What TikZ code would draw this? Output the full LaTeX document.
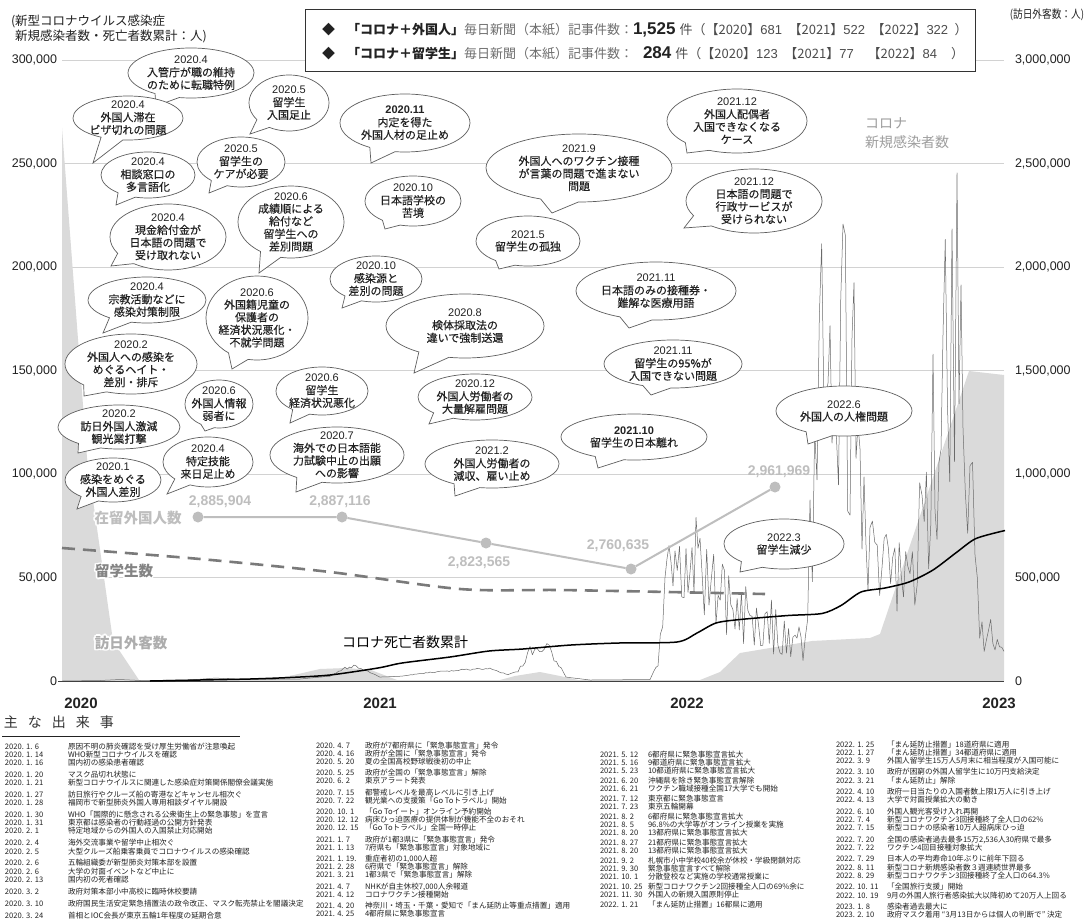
\documentclass[tikz,border=0pt]{standalone}
\usepackage{graphicx}
\usepackage{fontspec}
\setmainfont{Liberation Sans}
\newfontfamily\jp{Noto Sans CJK JP}
\newfontfamily\jpm{Noto Sans CJK JP}[FakeBold=0.35]
\usetikzlibrary{shapes.callouts}
\definecolor{ink}{HTML}{222222}
\definecolor{gridc}{HTML}{D2D2D2}
\definecolor{visit}{HTML}{DADADA}
\definecolor{resc}{HTML}{BEBEBE}
\definecolor{stuc}{HTML}{7A7A7A}
\definecolor{casec}{HTML}{6A6A6A}
\definecolor{bubline}{HTML}{5E5E5E}
\definecolor{midg}{HTML}{6E6E6E}
\newcommand\dt[1]{{\rmfamily #1}}
\newcommand\nm[1]{{\rmfamily #1}}
% one line of the event list: date, description (fixed line height)
\newcommand\evw{63pt}
\newcommand\ev[2]{\makebox[\evw][l]{\smash{#1}}\smash{#2}\rule[-2.3pt]{0pt}{7.8pt}}
% white-outlined label: name, position, style, text
\newcommand\halolabel[4]{%
  \foreach \a in {0,30,...,330}{\node[#3,text=white,shift={(\a:1.5)}] at #2 {#4};}
  \node[#3] (#1) at #2 {#4};}
\begin{document}
\begin{tikzpicture}[x=1pt,y=-1pt,
  every node/.style={inner sep=0pt,outer sep=0pt},
  bubble/.style={ellipse callout,draw=bubline,line width=0.7pt,fill=white,
    inner sep=-15pt,callout pointer arc=24,align=center,
    font=\jpm\fontsize{11}{12.6}\selectfont,text=ink},
  bsize/.style 2 args={minimum width=#1pt,minimum height=#2pt},
  gridline/.style={gridc,line width=0.8pt},
  ylab/.style={font=\fontsize{12.5}{12.5}\selectfont,text=ink},
  yearlab/.style={font=\bfseries\fontsize{15}{15}\selectfont,text=ink},
  numlab/.style={font=\bfseries\fontsize{14}{14}\selectfont,text=resc},
  resdot/.style={circle,fill=resc,minimum size=11pt},
  serieslab/.style={font=\jp\bfseries\fontsize{14.5}{14.5}\selectfont},
  events/.style={anchor=north west,align=left,text=ink,font=\jp\fontsize{7.6}{8.2}\selectfont},
  eventsb/.style={events,font=\jp\fontsize{7.6}{8.0}\selectfont},
  caseline/.style={casec,line width=0.5pt,line join=round}
]
\useasboundingbox (0,0) rectangle (1086,923);
\fill[white] (0,0) rectangle (1086,923);

% ---------- grid ----------
\foreach \yy in {60,163.5,267,370.5,474,577.5}
  \draw[gridline] (62,\yy) -- (1004,\yy);

% ---------- monthly foreign visitors (right axis) ----------
\fill[visit] (62,681) -- (62,128) -- (87,458) -- (113,641) -- (139,680) -- (268,680)
  -- (294,675) -- (320,669) -- (346,668) -- (371,670) -- (397,680) -- (500,680)
  -- (515,676) -- (540,672) -- (560,676) -- (578,680) -- (700,680) -- (720,672)
  -- (740,653) -- (764,649) -- (812,641) -- (870,638) -- (880,634) -- (969,371)
  -- (1004,375) -- (1004,681) -- cycle;

% ---------- daily new cases (left axis) ----------
\pgfmathsetseed{20230210}
\gdef\casepath{(62,681)}
\foreach \x/\e [remember=\x as \lastx (initially 62), remember=\e as \laste (initially 0)] in
 {62/0,100/0.5,120/1.5,140/0.5,190/1,215/3,245/1.5,300/2,330/5,345/14,356/17,368/10,
  380/4,400/5,430/9,460/12,490/13,508/7,518/10,530/35,542/52,554/30,566/4,590/1,
  650/1.5,658/20,665/150,675/210,684/216,694/175,702/160,716/125,735/115,750/100,
  765/90,780/70,795/50,803/60,810/200,817/350,824/515,834/520,843/540,850/480,856/400,
  862/250,870/180,882/160,897/140,910/150,922/230,933/330,943/440,952/470,957/510,
  963/440,970/280,975/170,982/90,995/60,1004/30}
{
  \pgfmathtruncatemacro\nn{max(1,round((\x-\lastx)/2.2))}
  \foreach \i in {1,...,\nn}{
    \pgfmathsetmacro\px{\lastx+(\x-\lastx)*\i/\nn}
    \pgfmathsetmacro\ee{\laste+(\e-\laste)*\i/\nn}
    \pgfmathsetmacro\py{681-\ee*(1-0.66*rnd*min(1,\ee/50))}
    \xdef\casepath{\casepath -- (\px,\py)}
  }
}
\draw[caseline] \casepath;

% ---------- baseline ----------
\draw[black!75,line width=0.8pt] (58,681) -- (1004,681);

% ---------- cumulative deaths ----------
\draw[black,line width=1.5pt] plot[smooth,tension=0.45] coordinates {
  (150,681) (200,680) (250,679) (290,677.5) (330,675) (378,668) (402,663) (450,657)
  (489,651) (523,649) (571,645) (619,643) (677,642) (697,633) (716,623) (740,619.5)
  (788,615.5) (822,613.5) (841,605.5) (861,592) (885,588) (909,582) (933,570)
  (957,552) (976,538.5) (1005,530.5)};

% ---------- international students (dashed) ----------
\draw[stuc,line width=2.6pt,dash pattern=on 13pt off 8pt] plot[smooth] coordinates {
  (62,548) (200,559) (330,572) (460,589) (560,590) (668,592) (765,594)};

% ---------- resident foreigners ----------
\node[resdot] (r1) at (198,517) {};
\node[resdot] (r2) at (342,517) {};
\node[resdot] (r3) at (486,543) {};
\node[resdot] (r4) at (631,569) {};
\node[resdot] (r5) at (775,487) {};
\draw[resc,line width=2pt] (r1) -- (r2) -- (r3) -- (r4) -- (r5);
\node[numlab] (n1) at (220,502) {2,885,904};
\node[numlab] (n2) at (340,502) {2,887,116};
\node[numlab] (n3) at (479,563) {2,823,565};
\node[numlab] (n4) at (618,546) {2,760,635};
\node[numlab] (n5) at (779,472) {2,961,969};

% ---------- series labels ----------
\halolabel{lres}{(138,518)}{serieslab,text=resc}{在留外国人数}
\halolabel{lstu}{(124,571)}{serieslab,text=midg!85}{留学生数}
\halolabel{lvis}{(131,643)}{serieslab,text=black!32}{訪日外客数}
\node[font=\jp\fontsize{14}{14}\selectfont,text=black] (ldeath) at (405,642) {コロナ死亡者数累計};
\node[font=\jp\fontsize{14}{14}\selectfont,text=black!38,anchor=west] (lcase1) at (865,123) {コロナ};
\node[font=\jp\fontsize{14}{14}\selectfont,text=black!38,anchor=west] (lcase2) at (865,142) {新規感染者数};

% ---------- axes labels ----------
\node[ylab,anchor=east] (yl6) at (57,60) {300,000};
\node[ylab,anchor=east] (yl5) at (57,163.5) {250,000};
\node[ylab,anchor=east] (yl4) at (57,267) {200,000};
\node[ylab,anchor=east] (yl3) at (57,370.5) {150,000};
\node[ylab,anchor=east] (yl2) at (57,474) {100,000};
\node[ylab,anchor=east] (yl1) at (57,577.5) {50,000};
\node[ylab,anchor=east] (yl0) at (57,681) {0};
\node[ylab,anchor=west] (yr6) at (1015,60) {3,000,000};
\node[ylab,anchor=west] (yr5) at (1015,163.5) {2,500,000};
\node[ylab,anchor=west] (yr4) at (1015,267) {2,000,000};
\node[ylab,anchor=west] (yr3) at (1015,370.5) {1,500,000};
\node[ylab,anchor=west] (yr2) at (1015,474) {1,000,000};
\node[ylab,anchor=west] (yr1) at (1015,577.5) {500,000};
\node[ylab,anchor=west] (yr0) at (1015,681) {0};
\node[yearlab] (y2020) at (81,703) {2020};
\node[yearlab] (y2021) at (380,703) {2021};
\node[yearlab] (y2022) at (687,703) {2022};
\node[yearlab] (y2023) at (999,703) {2023};

\node[anchor=west,align=left,font=\jp\fontsize{12.5}{15}\selectfont,text=ink] (unitl) at (11,28.5)
  {(新型コロナウイルス感染症\\\hspace{4pt}新規感染者数・死亡者数累計：人)};
\node[anchor=east,font=\jp\fontsize{11.5}{12}\selectfont,text=ink] (unitr) at (1084,15)
  {\scalebox{0.84}[1]{(訪日外客数：人)}};

% ---------- legend ----------
\node[draw=black!80,line width=1pt,fill=white,minimum width=670pt,minimum height=62pt] (legend) at (640,41) {};
\node[anchor=west,font=\jp\fontsize{13}{13}\selectfont,text=ink] (leg1) at (322,30)
  {◆\hspace{12pt}\textbf{「コロナ＋外国人」}\textcolor{midg}{毎日新聞（本紙）記事件数：}{\rmfamily\bfseries\fontsize{17}{17}\selectfont 1,525}\hspace{4pt}\textcolor{black!70}{件（【2020】\nm{681}\enspace【2021】\nm{522}\enspace【2022】\nm{322}\enspace）}};
\node[anchor=west,font=\jp\fontsize{13}{13}\selectfont,text=ink] (leg2) at (322,53)
  {◆\hspace{12pt}\textbf{「コロナ＋留学生」}\textcolor{midg}{毎日新聞（本紙）記事件数：}\hspace{10pt}{\rmfamily\bfseries\fontsize{17}{17}\selectfont 284}\hspace{4pt}\textcolor{black!70}{件（【2020】\nm{123}\enspace【2021】\nm{77}\hspace{14pt}【2022】\nm{84}\hspace{14pt}）}};

% ---------- event bubbles ----------
\node[bubble,bsize={126}{50},callout absolute pointer={(156,106)}] (b1) at (191,73) {\dt{2020.4}\\入管庁が職の維持\\のために転職特例};
\node[bubble,bsize={110}{44},callout absolute pointer={(93,163)}] (b2) at (128,118) {\dt{2020.4}\\外国人滞在\\ビザ切れの問題};
\node[bubble,bsize={80}{56},callout absolute pointer={(250,134)}] (b3) at (289,103) {\dt{2020.5}\\留学生\\入国足止};
\node[bubble,bsize={94}{46},callout absolute pointer={(116,205)}] (b4) at (148,175) {\dt{2020.4}\\相談窓口の\\多言語化};
\node[bubble,bsize={88}{50},callout absolute pointer={(209,193)}] (b5) at (241,162) {\dt{2020.5}\\留学生の\\ケアが必要};
\node[bubble,bsize={106}{72},callout absolute pointer={(259,273)}] (b6) at (291,222) {\dt{2020.6}\\成績順による\\給付など\\留学生への\\差別問題};
\node[bubble,bsize={116}{66},callout absolute pointer={(111,266)}] (b7) at (168,237) {\dt{2020.4}\\現金給付金が\\日本語の問題で\\受け取れない};
\node[bubble,bsize={118}{46},callout absolute pointer={(103,333)}] (b8) at (147,300) {\dt{2020.4}\\宗教活動などに\\感染対策制限};
\node[bubble,bsize={102}{84},callout absolute pointer={(232,369)}] (b9) at (257,318) {\dt{2020.6}\\外国籍児童の\\保護者の\\経済状況悪化・\\不就学問題};
\node[bubble,bsize={132}{60},callout absolute pointer={(84,396)}] (b10) at (131,364) {\dt{2020.2}\\外国人への感染を\\めぐるヘイト・\\差別・排斥};
\node[bubble,bsize={68}{48},callout absolute pointer={(205,431)}] (b11) at (219,404) {\dt{2020.6}\\外国人情報\\弱者に};
\node[bubble,bsize={122}{44},callout absolute pointer={(78,453)}] (b12) at (119,427) {\dt{2020.2}\\訪日外国人激減\\観光業打撃};
\node[bubble,bsize={96}{44},callout absolute pointer={(77,509)}] (b13) at (113,480) {\dt{2020.1}\\感染をめぐる\\外国人差別};
\node[bubble,bsize={90}{50},callout absolute pointer={(167,494)}] (b14) at (208,462) {\dt{2020.4}\\特定技能\\来日足止め};
\node[bubble,bsize={92}{48},callout absolute pointer={(290,423)}] (b15) at (322,391) {\dt{2020.6}\\留学生\\経済状況悪化};
\node[bubble,bsize={134}{56},callout absolute pointer={(296,492)}] (b16) at (337,455) {\dt{2020.7}\\海外での日本語能\\力試験中止の出願\\への影響};
\node[bubble,bsize={130}{58},callout absolute pointer={(371,163)}] (b17) at (405,123) {\dt{\bfseries 2020.11}\\内定を得た\\外国人材の足止め};
\node[bubble,bsize={96}{50},callout absolute pointer={(385,229)}] (b18) at (413,201) {\dt{2020.10}\\日本語学校の\\苦境};
\node[bubble,bsize={186}{68},callout absolute pointer={(552,213)}] (b19) at (579,168) {\dt{2021.9}\\外国人へのワクチン接種\\が言葉の問題で進まない\\問題};
\node[bubble,bsize={104}{50},callout absolute pointer={(499,269)}] (b20) at (528,241) {\dt{2021.5}\\留学生の孤独};
\node[bubble,bsize={92}{46},callout absolute pointer={(342,308)}] (b21) at (376,279) {\dt{2020.10}\\感染源と\\差別の問題};
\node[bubble,bsize={158}{64},callout absolute pointer={(414,373)}] (b22) at (465,326) {\dt{2020.8}\\検体採取法の\\違いで強制送還};
\node[bubble,bsize={114}{46},callout absolute pointer={(429,424)}] (b23) at (475,397) {\dt{2020.12}\\外国人労働者の\\大量解雇問題};
\node[bubble,bsize={134}{48},callout absolute pointer={(455,496)}] (b24) at (492,464) {\dt{2021.2}\\外国人労働者の\\減収、雇い止め};
\node[bubble,bsize={140}{64},callout absolute pointer={(687,153)}] (b25) at (737,121) {\dt{2021.12}\\外国人配偶者\\入国できなくなる\\ケース};
\node[bubble,bsize={136}{64},callout absolute pointer={(684,228)}] (b26) at (754,201) {\dt{2021.12}\\日本語の問題で\\行政サービスが\\受けられない};
\node[bubble,bsize={160}{58},callout absolute pointer={(629,328)}] (b27) at (656,291) {\dt{2021.11}\\日本語のみの接種券・\\難解な医療用語};
\node[bubble,bsize={138}{48},callout absolute pointer={(651,395)}] (b28) at (673,364) {\dt{2021.11}\\留学生の95\%が\\入国できない問題};
\node[bubble,bsize={146}{46},callout absolute pointer={(598,468)}] (b29) at (634,437) {\dt{\bfseries 2021.10}\\留学生の日本離れ};
\node[bubble,bsize={136}{50},callout absolute pointer={(808,444)}] (b30) at (844,411) {\dt{2022.6}\\外国人の人権問題};
\node[bubble,bsize={120}{50},callout absolute pointer={(740,572)}] (b31) at (784,544) {\dt{2022.3}\\留学生減少};

% ---------- main events ----------
\node[anchor=west,font=\jp\fontsize{14}{14}\selectfont,text=black!80] (evtitle) at (4,722)
  {主\hspace{10pt}な\hspace{10pt}出\hspace{10pt}来\hspace{10pt}事};
\draw[ink,line width=0.8pt] (2,736) -- (240,736);

\renewcommand\evw{63pt}
\node[events] (ev1) at (5,743.5) {%
\ev{2020. 1. 6}{原因不明の肺炎確認を受け厚生労働省が注意喚起}\\
\ev{2020. 1. 14}{WHO新型コロナウイルスを確認}\\
\ev{2020. 1. 16}{国内初の感染患者確認}\\[3.7pt]
\ev{2020. 1. 20}{マスク品切れ状態に}\\
\ev{2020. 1. 21}{新型コロナウイルスに関連した感染症対策関係閣僚会議実施}\\[3.7pt]
\ev{2020. 1. 27}{訪日旅行やクルーズ船の寄港などキャンセル相次ぐ}\\
\ev{2020. 1. 28}{福岡市で新型肺炎外国人専用相談ダイヤル開設}\\[3.7pt]
\ev{2020. 1. 30}{WHO「国際的に懸念される公衆衛生上の緊急事態」を宣言}\\
\ev{2020. 1. 31}{東京都は感染者の行動経過の公開方針発表}\\
\ev{2020. 2. 1}{特定地域からの外国人の入国禁止対応開始}\\[3.7pt]
\ev{2020. 2. 4}{海外交流事業や留学中止相次ぐ}\\
\ev{2020. 2. 5}{大型クルーズ船乗客乗員でコロナウイルスの感染確認}\\[3.7pt]
\ev{2020. 2. 6}{五輪組織委が新型肺炎対策本部を設置}\\
\ev{2020. 2. 6}{大学の対面イベントなど中止に}\\
\ev{2020. 2. 13}{国内初の死者確認}\\[3.7pt]
\ev{2020. 3. 2}{政府対策本部小中高校に臨時休校要請}\\[3.7pt]
\ev{2020. 3. 10}{政府国民生活安定緊急措置法の政令改正、マスク転売禁止を閣議決定}\\[3.7pt]
\ev{2020. 3. 24}{首相とIOC会長が東京五輪1年程度の延期合意}};

\renewcommand\evw{49pt}
\node[events] (ev2) at (316,742.5) {%
\ev{2020. 4. 7}{政府が7都府県に「緊急事態宣言」発令}\\
\ev{2020. 4. 16}{政府が全国に「緊急事態宣言」発令}\\
\ev{2020. 5. 20}{夏の全国高校野球戦後初の中止}\\[3pt]
\ev{2020. 5. 25}{政府が全国の「緊急事態宣言」解除}\\
\ev{2020. 6. 2}{東京アラート発表}\\[3pt]
\ev{2020. 7. 15}{都警戒レベルを最高レベルに引き上げ}\\
\ev{2020. 7. 22}{観光業への支援策「Go Toトラベル」開始}\\[3pt]
\ev{2020. 10. 1}{「Go Toイート」オンライン予約開始}\\
\ev{2020. 12. 12}{病床ひっ迫医療の提供体制が機能不全のおそれ}\\
\ev{2020. 12. 15}{「Go Toトラベル」全国一時停止}\\[3pt]
\ev{2021. 1. 7}{政府が1都3県に「緊急事態宣言」発令}\\
\ev{2021. 1. 13}{7府県も「緊急事態宣言」対象地域に}\\[3pt]
\ev{2021. 1. 19.}{重症者初の1,000人超}\\
\ev{2021. 2. 28}{6府県で「緊急事態宣言」解除}\\
\ev{2021. 3. 21}{1都3県で「緊急事態宣言」解除}\\[3pt]
\ev{2021. 4. 7}{NHKが自主休校7,000人余報道}\\
\ev{2021. 4. 12}{コロナワクチン接種開始}\\[3pt]
\ev{2021. 4. 20}{神奈川・埼玉・千葉・愛知で「まん延防止等重点措置」適用}\\
\ev{2021. 4. 25}{4都府県に緊急事態宣言}};

\renewcommand\evw{48pt}
\node[eventsb] (ev3) at (600,751.5) {%
\ev{2021. 5. 12}{6都府県に緊急事態宣言拡大}\\
\ev{2021. 5. 16}{9都道府県に緊急事態宣言拡大}\\
\ev{2021. 5. 23}{10都道府県に緊急事態宣言拡大}\\[2pt]
\ev{2021. 6. 20}{沖縄県を除き緊急事態宣言解除}\\
\ev{2021. 6. 21}{ワクチン職域接種全国17大学でも開始}\\[2pt]
\ev{2021. 7. 12}{東京都に緊急事態宣言}\\
\ev{2021. 7. 23}{東京五輪開幕}\\[2pt]
\ev{2021. 8. 2}{6都府県に緊急事態宣言拡大}\\
\ev{2021. 8. 5}{96.8\%の大学等がオンライン授業を実施}\\
\ev{2021. 8. 20}{13都府県に緊急事態宣言拡大}\\[2pt]
\ev{2021. 8. 27}{21都府県に緊急事態宣言拡大}\\
\ev{2021. 8. 20}{13都府県に緊急事態宣言拡大}\\[2pt]
\ev{2021. 9. 2}{札幌市小中学校40校余が休校・学級閉鎖対応}\\
\ev{2021. 9. 30}{緊急事態宣言すべて解除}\\
\ev{2021. 10. 1}{分散登校など実施の学校通常授業に}\\[2pt]
\ev{2021. 10. 25}{新型コロナワクチン2回接種全人口の69\%余に}\\
\ev{2021. 11. 30}{外国人の新規入国原則停止}\\[2pt]
\ev{2022. 1. 21}{「まん延防止措置」16都県に適用}};

\renewcommand\evw{51pt}
\node[events] (ev4) at (836,741.5) {%
\ev{2022. 1. 25}{「まん延防止措置」18道府県に適用}\\
\ev{2022. 1. 27}{「まん延防止措置」34都道府県に適用}\\
\ev{2022. 3. 9}{外国人留学生15万人5月末に相当程度が入国可能に}\\[3.3pt]
\ev{2022. 3. 10}{政府が困窮の外国人留学生に10万円支給決定}\\
\ev{2022. 3. 21}{「まん延防止」解除}\\[3.3pt]
\ev{2022. 4. 10}{政府一日当たりの入国者数上限1万人に引き上げ}\\
\ev{2022. 4. 13}{大学で対面授業拡大の動き}\\[3.3pt]
\ev{2022. 6. 10}{外国人観光客受け入れ再開}\\
\ev{2022. 7. 4}{新型コロナワクチン3回接種終了全人口の62\%}\\
\ev{2022. 7. 15}{新型コロナの感染者10万人超病床ひっ迫}\\[3.3pt]
\ev{2022. 7. 20}{全国の感染者過去最多15万2,536人30府県で最多}\\
\ev{2022. 7. 22}{ワクチン4回目接種対象拡大}\\[3.3pt]
\ev{2022. 7. 29}{日本人の平均寿命10年ぶりに前年下回る}\\
\ev{2022. 8. 11}{新型コロナ新規感染者数３週連続世界最多}\\
\ev{2022. 8. 29}{新型コロナワクチン3回接種終了全人口の64.3\%}\\[3.3pt]
\ev{2022. 10. 11}{「全国旅行支援」開始}\\
\ev{2022. 10. 19}{9月の外国人旅行者感染拡大以降初めて20万人上回る}\\[3.3pt]
\ev{2023. 1. 8}{感染者過去最大に}\\
\ev{2023. 2. 10}{政府マスク着用 “3月13日からは個人の判断で” 決定}};
\end{tikzpicture}
\end{document}
